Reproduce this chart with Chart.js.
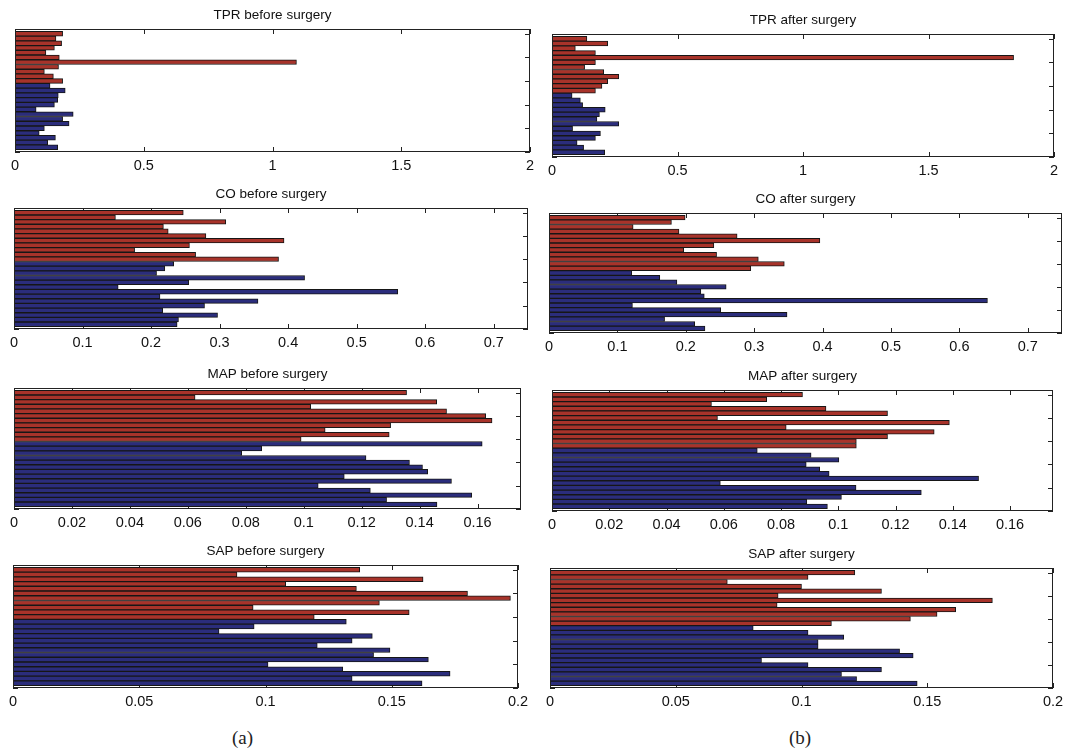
<!DOCTYPE html>
<html><head><meta charset="utf-8">
<script src="https://cdn.jsdelivr.net/npm/chart.js@4.4.1/dist/chart.umd.min.js"></script>
<style>
html,body{margin:0;padding:0;background:#fff;}
#root{position:relative;width:1071px;height:752px;overflow:hidden;background:#fff;}
#root canvas{position:absolute;}
.cap{position:absolute;font-family:"Liberation Serif","DejaVu Serif",serif;font-size:19px;color:#222;line-height:20px;}
</style></head><body>
<div id="root">
<div class="cap" style="left:232px;top:728px">(a)</div>
<div class="cap" style="left:789px;top:728px">(b)</div>
</div>
<script>
// ---------------- data (bars listed top to bottom) ----------------
const nBars = 25;
const redCountBefore = 11;
const redCountAfter = 12;

const tprBefore = [0.185, 0.159, 0.181, 0.153, 0.120, 0.172, 1.093, 0.169, 0.114, 0.149, 0.185, 0.136, 0.195, 0.168, 0.166, 0.153, 0.082, 0.226, 0.185, 0.210, 0.114, 0.094, 0.157, 0.127, 0.166];
const tprAfter  = [0.139, 0.222, 0.093, 0.173, 1.839, 0.173, 0.130, 0.206, 0.266, 0.222, 0.199, 0.173, 0.080, 0.113, 0.122, 0.212, 0.189, 0.179, 0.266, 0.082, 0.193, 0.173, 0.100, 0.126, 0.210];
const coBefore  = [0.247, 0.148, 0.309, 0.218, 0.225, 0.280, 0.394, 0.256, 0.176, 0.265, 0.386, 0.233, 0.220, 0.208, 0.424, 0.255, 0.152, 0.560, 0.213, 0.356, 0.278, 0.217, 0.297, 0.240, 0.238];
const coAfter   = [0.199, 0.179, 0.123, 0.190, 0.275, 0.396, 0.241, 0.197, 0.245, 0.306, 0.344, 0.295, 0.121, 0.162, 0.187, 0.259, 0.222, 0.227, 0.641, 0.122, 0.251, 0.348, 0.169, 0.213, 0.228];
const mapBefore = [0.1355, 0.0625, 0.1459, 0.1024, 0.1493, 0.1628, 0.1650, 0.1300, 0.1074, 0.1295, 0.0991, 0.1616, 0.0855, 0.0786, 0.1215, 0.1365, 0.1410, 0.1428, 0.1140, 0.1510, 0.1050, 0.1230, 0.1580, 0.1286, 0.1460];
const mapAfter  = [0.0875, 0.0750, 0.0557, 0.0957, 0.1172, 0.0578, 0.1388, 0.0818, 0.1335, 0.1172, 0.1063, 0.1063, 0.0717, 0.0905, 0.1002, 0.0888, 0.0935, 0.0968, 0.1490, 0.0588, 0.1062, 0.1290, 0.1011, 0.0890, 0.0962];
const sapBefore = [0.1373, 0.0887, 0.1624, 0.1080, 0.1360, 0.1800, 0.1970, 0.1451, 0.0951, 0.1569, 0.1193, 0.1320, 0.0955, 0.0816, 0.1423, 0.1343, 0.1205, 0.1493, 0.1428, 0.1645, 0.1010, 0.1306, 0.1731, 0.1343, 0.1620];
const sapAfter  = [0.1212, 0.1026, 0.0705, 0.1000, 0.1318, 0.0907, 0.1759, 0.0903, 0.1613, 0.1539, 0.1433, 0.1119, 0.0808, 0.1026, 0.1168, 0.1066, 0.1066, 0.1390, 0.1444, 0.0841, 0.1026, 0.1318, 0.1159, 0.1219, 0.1460];

const tprTicks = [0, 0.5, 1, 1.5, 2];
const coTicks  = [0, 0.1, 0.2, 0.3, 0.4, 0.5, 0.6, 0.7];
const mapTicks = [0, 0.02, 0.04, 0.06, 0.08, 0.1, 0.12, 0.14, 0.16];
const sapTicks = [0, 0.05, 0.1, 0.15, 0.2];
const yTickValues = [0, 5, 10, 15, 20, 25];

const tprMax = 2, coMax = 0.75, mapMax = 0.175, sapMax = 0.2;

// ---------------- layout & style ----------------
const RED = '#a8332a', BLUE = '#2b2d7c', EDGE = '#161616';
const FONT = '"Liberation Sans", Arial, Helvetica, sans-serif';
const PADX = 18, TITLE_LH = 16, TITLE_PAD = 6, AXIS_H = 30;
const TITLE_H = TITLE_LH + TITLE_PAD;

const panels = [
  {title: 'TPR before surgery', values: tprBefore, ticks: tprTicks, max: tprMax, red: redCountBefore, box: [15, 530, 29, 152]},
  {title: 'TPR after surgery',  values: tprAfter,  ticks: tprTicks, max: tprMax, red: redCountAfter,  box: [552, 1054, 34, 157]},
  {title: 'CO before surgery',  values: coBefore,  ticks: coTicks,  max: coMax,  red: redCountBefore, box: [14, 528, 208, 329]},
  {title: 'CO after surgery',   values: coAfter,   ticks: coTicks,  max: coMax,  red: redCountAfter,  box: [549, 1062, 213, 333]},
  {title: 'MAP before surgery', values: mapBefore, ticks: mapTicks, max: mapMax, red: redCountBefore, box: [14, 521, 388, 509]},
  {title: 'MAP after surgery',  values: mapAfter,  ticks: mapTicks, max: mapMax, red: redCountAfter,  box: [552, 1053, 390, 511]},
  {title: 'SAP before surgery', values: sapBefore, ticks: sapTicks, max: sapMax, red: redCountBefore, box: [13, 518, 565, 688]},
  {title: 'SAP after surgery',  values: sapAfter,  ticks: sapTicks, max: sapMax, red: redCountAfter,  box: [550, 1053, 568, 688]}
];

const framePlugin = {
  id: 'frame',
  beforeDatasetsDraw(chart) {
    const {ctx, chartArea: a, scales: {x, y}} = chart;
    ctx.save();
    ctx.strokeStyle = '#222';
    ctx.lineWidth = 1;
    ctx.beginPath();
    x.ticks.forEach(t => {
      const px = Math.round(x.getPixelForValue(t.value)) + 0.5;
      ctx.moveTo(px, a.top); ctx.lineTo(px, a.top + 5);
      ctx.moveTo(px, a.bottom); ctx.lineTo(px, a.bottom - 5);
    });
    yTickValues.forEach(v => {
      const py = Math.round(y.getPixelForValue(v)) + 0.5;
      ctx.moveTo(a.left, py); ctx.lineTo(a.left + 5, py);
      ctx.moveTo(a.right, py); ctx.lineTo(a.right - 5, py);
    });
    ctx.stroke();
    ctx.restore();
  },
  afterDatasetsDraw(chart) {
    const {ctx, chartArea: a} = chart;
    ctx.save();
    ctx.strokeStyle = '#222';
    ctx.lineWidth = 1;
    ctx.strokeRect(Math.round(a.left) + 0.5, Math.round(a.top) + 0.5, Math.round(a.right - a.left) - 1, Math.round(a.bottom - a.top) - 1);
    ctx.restore();
  }
};

const fmt = v => String(parseFloat(Number(v).toFixed(6)));
const root = document.getElementById('root');

panels.forEach(p => {
  const [L, R, T, B] = p.box;
  const cv = document.createElement('canvas');
  const cw = (R - L) + 2 * PADX;
  const ch = (B - T) + TITLE_H + AXIS_H;
  cv.width = cw; cv.height = ch;
  cv.style.width = cw + 'px'; cv.style.height = ch + 'px';
  cv.style.left = (L - PADX) + 'px';
  cv.style.top = (T - TITLE_H) + 'px';
  root.appendChild(cv);

  new Chart(cv, {
    type: 'bar',
    data: {
      datasets: [{
        data: p.values.map((v, k) => ({x: v, y: nBars - k})),
        backgroundColor: p.values.map((v, k) => k < p.red ? RED : BLUE),
        borderColor: EDGE,
        borderWidth: 1,
        borderSkipped: 'start',
        barPercentage: 1,
        categoryPercentage: 1
      }]
    },
    options: {
      indexAxis: 'y',
      responsive: false,
      devicePixelRatio: 1,
      animation: false,
      events: [],
      layout: {padding: {left: PADX, right: PADX, top: 0, bottom: 0}},
      plugins: {
        legend: {display: false},
        tooltip: {enabled: false},
        title: {
          display: true, text: p.title, color: '#111',
          font: {family: FONT, size: 13.5, weight: 'normal', lineHeight: TITLE_LH + 'px'},
          padding: {top: 0, bottom: TITLE_PAD}
        }
      },
      scales: {
        x: {
          type: 'linear', min: 0, max: p.max, position: 'bottom',
          afterBuildTicks: s => { s.ticks = p.ticks.map(v => ({value: v})); },
          afterFit: s => { s.height = AXIS_H; },
          grid: {display: false, drawTicks: false},
          border: {display: false},
          ticks: {
            callback: v => fmt(v), color: '#111', padding: 5,
            font: {family: FONT, size: 14.5}, maxRotation: 0, autoSkip: false
          }
        },
        y: {
          type: 'linear', min: 0, max: nBars + 1, offset: false, display: false,
          afterBuildTicks: s => { s.ticks = yTickValues.map(v => ({value: v})); }
        }
      }
    },
    plugins: [framePlugin]
  });
});
</script>
</body></html>
